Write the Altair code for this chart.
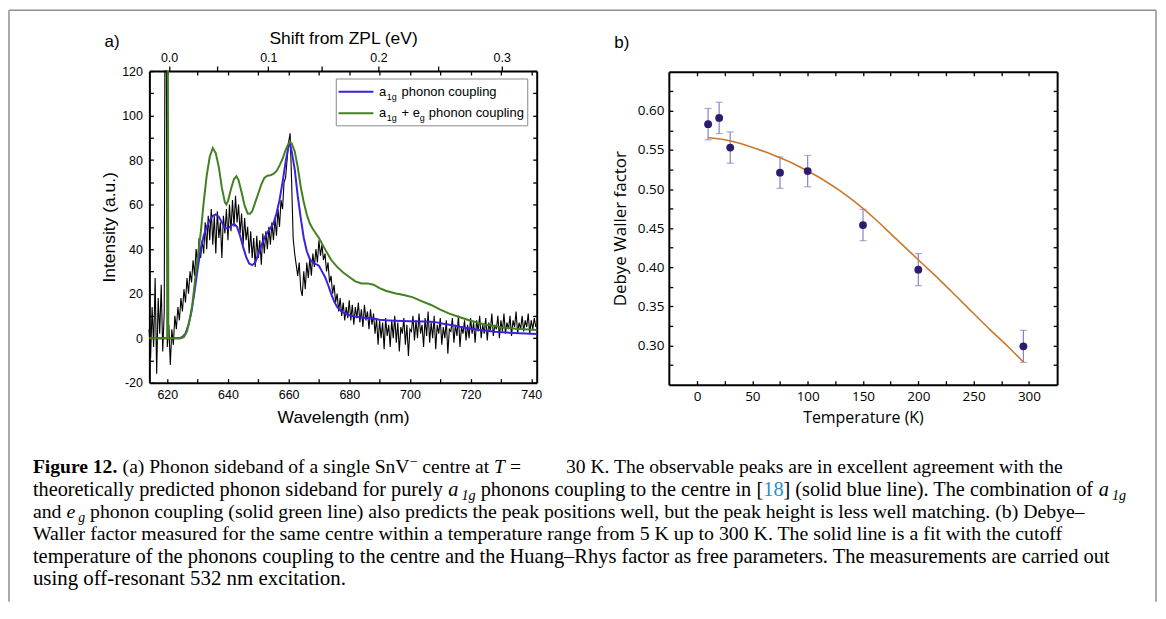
import altair as alt
import pandas as pd

W, H = 1155, 595
SANS_A = "Liberation Sans"
SANS_B = "Open Sans"
SERIF = "Liberation Serif"

# ---------------- panel a data ----------------
spec_wl = [614.0, 614.5, 615.0, 615.5, 616.0, 616.5, 617.0, 617.5, 618.0, 618.5, 619.0, 619.2, 619.7,
           620.0, 620.5, 621.0, 621.5, 622.0, 622.5, 623.0, 623.5, 624.0, 624.5, 625.0, 625.5, 626.0, 626.5,
           627.0, 627.5, 628.0, 628.5, 629.0, 629.5, 630.0,
           630.5, 631.0, 631.5, 632.0, 632.5, 633.0, 633.5, 634.0, 634.5, 635.0, 635.5, 636.0, 636.5, 637.0,
           637.5, 638.0, 638.5, 639.0, 639.5, 640.0,
           640.5, 641.0, 641.5, 642.0, 642.5, 643.0, 643.5, 644.0, 644.5, 645.0, 645.5, 646.0, 646.5, 647.0,
           647.5, 648.0, 648.5, 649.0, 649.5, 650.0,
           650.5, 651.0, 651.5, 652.0, 652.5, 653.0, 653.5, 654.0, 654.5, 655.0, 655.5, 656.0, 656.5, 657.0,
           657.5, 658.0, 658.5, 659.0, 659.5, 660.0,
           660.5, 661.0, 661.5, 662.0, 662.5, 663.0, 663.5, 664.0, 664.5, 665.0, 665.5, 666.0, 666.5, 667.0,
           667.5, 668.0, 668.5, 669.0, 669.5, 670.0,
           670.5, 671.0, 671.5, 672.0, 672.5, 673.0, 673.5, 674.0, 674.5, 675.0, 675.5, 676.0, 676.5, 677.0,
           677.5, 678.0, 678.5, 679.0, 679.5, 680.0,
           680.5, 681.0, 681.5, 682.0, 682.5, 683.0, 683.5, 684.0, 684.5, 685.0, 685.5, 686.0, 686.5, 687.0,
           687.5, 688.0, 688.5, 689.0, 689.5, 690.0,
           690.5, 691.0, 691.5, 692.0, 692.5, 693.0, 693.5, 694.0, 694.5, 695.0, 695.5, 696.0, 696.5, 697.0,
           697.5, 698.0, 698.5, 699.0, 699.5, 700.0,
           700.5, 701.0, 701.5, 702.0, 702.5, 703.0, 703.5, 704.0, 704.5, 705.0, 705.5, 706.0, 706.5, 707.0,
           707.5, 708.0, 708.5, 709.0, 709.5, 710.0,
           710.5, 711.0, 711.5, 712.0, 712.5, 713.0, 713.5, 714.0, 714.5, 715.0, 715.5, 716.0, 716.5, 717.0,
           717.5, 718.0, 718.5, 719.0, 719.5, 720.0,
           720.5, 721.0, 721.5, 722.0, 722.5, 723.0, 723.5, 724.0, 724.5, 725.0, 725.5, 726.0, 726.5, 727.0,
           727.5, 728.0, 728.5, 729.0, 729.5, 730.0,
           730.5, 731.0, 731.5, 732.0, 732.5, 733.0, 733.5, 734.0, 734.5, 735.0, 735.5, 736.0, 736.5, 737.0,
           737.5, 738.0, 738.5, 739.0, 739.5, 740.0, 740.5, 741.0, 741.5]
spec_int = [4, -9, 14, -4, 27, -16, 18, 2, 24, -6, 12, 420, 420,
            -4, 6, -12, 4, -3, 10, 4, 14, 8, 18, 12, 22, 16, 27, 20, 30, 25, 35, 28, 40, 33,
            45, 36, 44, 38, 52, 40, 55, 44, 58, 42, 55, 38, 57, 45, 52, 36, 55, 47, 58, 44,
            60, 48, 62, 50, 64, 52, 60, 47, 56, 42, 54, 44, 50, 38, 48, 36, 45, 32, 46, 36,
            44, 33, 47, 38, 48, 40, 50, 42, 52, 44, 54, 46, 58, 50, 62, 58, 70, 72, 80, 88,
            92, 70, 45, 38, 33, 28, 34, 22, 19, 30, 22, 34, 27, 36, 28, 38, 32, 40, 34, 44,
            37, 42, 35, 38, 30, 34, 25, 28, 20, 24, 16, 20, 12, 18, 10, 16, 8, 14, 9, 17,
            8, 15, 6, 14, 9, 16, 7, 13, 5, 15, 8, 12, 4, 13, 6, 11, 2, 9, -3, 8,
            0, 7, -5, 9, 1, 6, -4, 8, 0, 10, -2, 7, -6, 5, 2, 9, -3, 6, -8, 4,
            3, 10, -1, 8, 0, 11, 2, 6, -4, 9, 1, 12, -2, 7, 0, 10, -5, 6, 2, 9,
            -3, 5, 0, 8, -7, 4, 3, 9, -2, 6, 1, 10, -4, 5, 2, 8, -1, 6, 0, 9,
            2, 7, -2, 8, 3, 10, 0, 6, 2, 9, -1, 7, 3, 11, 1, 6, 4, 10, 0, 8,
            3, 11, 2, 7, 4, 10, 1, 8, 5, 12, 2, 7, 4, 10, 3, 8, 5, 11, 2, 8, 4, 9, 5]

a1g_wl = [614.1, 624.0, 625.0, 626.0, 627.0, 628.0, 629.0, 630.0, 631.0, 632.0, 633.0, 634.0, 635.0, 636.0,
          637.0, 638.0, 639.0, 640.0, 641.0, 642.0, 643.0, 644.0, 645.0, 646.0, 647.0, 648.0, 649.0, 650.0,
          651.0, 652.0, 653.0, 654.0, 655.0, 656.0, 657.0, 658.0, 659.0, 660.0, 660.5, 661.0, 662.0, 663.0,
          664.0, 665.0, 666.0, 667.0, 668.0, 669.0, 670.0, 671.0, 672.0, 673.0, 674.0, 675.0, 676.0, 677.0,
          678.0, 680.0, 682.0, 684.0, 686.0, 688.0, 690.0, 692.0, 695.0, 700.0, 705.0, 708.0, 711.0, 714.0,
          717.0, 720.0, 724.0, 728.0, 732.0, 736.0, 741.8]
a1g_int = [0, 0, 0.5, 2, 6, 12, 21, 31, 40, 46, 50, 53, 55, 55.6,
           54.5, 52, 49.5, 49.3, 50.5, 51.4, 50, 46, 41, 36.5, 33.5, 32.8, 34, 37.5,
           41.5, 45, 47.5, 49.5, 51.5, 56, 62, 70, 79, 86.5, 87, 84, 76, 64,
           54, 45, 39, 35.5, 34, 33.3, 32.5, 30, 27.5, 24, 20, 16.5, 14, 12.5,
           11.5, 10.3, 9.6, 9.3, 9.1, 8.8, 8.3, 8.0, 7.8, 7.6, 7.5, 7.3, 6.5, 5.8,
           5.0, 4.2, 3.5, 2.9, 2.5, 2.2, 1.9]

aeg_wl = [614.1, 620.05, 620.2, 620.35, 624.5, 625.5, 626.5, 627.5, 628.3, 629.0, 630.0, 631.0, 632.0, 633.0,
          634.0, 635.0, 636.0, 637.0, 638.0, 639.0, 639.5, 640.0, 641.0, 642.0, 642.8, 643.5, 644.5, 645.5,
          646.5, 647.3, 648.0, 649.0, 650.0, 651.0, 652.0, 653.0, 654.0, 655.0, 656.0, 657.0, 658.0, 659.0,
          660.0, 660.5, 661.0, 662.0, 663.0, 664.0, 665.0, 666.0, 667.0, 668.0, 669.0, 670.0, 672.0, 674.0,
          676.0, 678.0, 680.0, 682.0, 684.0, 686.0, 688.0, 690.0, 692.0, 695.0, 698.0, 701.0, 704.0, 707.0,
          710.0, 713.0, 716.0, 720.0, 725.0, 730.0, 735.0, 741.8]
aeg_int = [0, 0, 420, 0, 0, 0.5, 3, 9, 15.5, 24, 36, 47, 61, 73,
           81.5, 85.4, 83, 76.8, 67.5, 61, 60, 61.5, 67, 71.5, 72.7, 71, 65.5, 59.5,
           56, 55.9, 57, 61, 65, 69, 72, 73, 73.2, 73.8, 75, 77.5, 80.5, 84.5,
           87.5, 88, 87.5, 84, 77, 68, 61, 55.5, 51.5, 49, 47, 45, 40, 35.2,
           32, 29.5, 27.5, 25.5, 24.6, 24.6, 24, 22.5, 21.3, 20.2, 19.4, 18.3, 16.5, 14.9,
           12.8, 11, 9.6, 7.8, 6, 4.9, 4.2, 3.7]

zpl_nm = 620.6
shift_ticks_ev = [0.0, 0.05, 0.10, 0.15, 0.20, 0.25, 0.30]
wl_labels = [620, 640, 660, 680, 700, 720, 740]
wl_ticks = [620, 630, 640, 650, 660, 670, 680, 690, 700, 710, 720, 730, 740]
int_labels = [-20, 0, 20, 40, 60, 80, 100, 120]
int_ticks = [-20, -10, 0, 10, 20, 30, 40, 50, 60, 70, 80, 90, 100, 110, 120]

# ---------------- panel b data ----------------
temp_k = [10, 20, 30, 75, 100, 150, 200, 295]
dw_factor = [0.583, 0.591, 0.553, 0.521, 0.523, 0.454, 0.397, 0.299]
dw_err = [0.020, 0.020, 0.020, 0.020, 0.020, 0.020, 0.0205, 0.0205]
fit_temp = [10, 25, 40, 55, 70, 85, 100, 115, 130, 145, 160, 175, 190, 205, 220, 235, 250, 265, 280, 295]
fit_dw = [0.566, 0.563, 0.558, 0.551, 0.543, 0.534, 0.523, 0.511, 0.497, 0.481, 0.463, 0.443, 0.423,
          0.403, 0.383, 0.362, 0.341, 0.320, 0.300, 0.279]
temp_labels = [0, 50, 100, 150, 200, 250, 300]
temp_ticks = [0, 25, 50, 75, 100, 125, 150, 175, 200, 225, 250, 275, 300]
dw_labels = [0.30, 0.35, 0.40, 0.45, 0.50, 0.55, 0.60]
dw_ticks = [0.275, 0.30, 0.325, 0.35, 0.375, 0.40, 0.425, 0.45, 0.475, 0.50, 0.525, 0.55, 0.575, 0.60, 0.625]

# ---------------- caption text ----------------
caption_lines = [
    [("Figure 12.", "b"), (" (a) Phonon sideband of a single SnV", "r"), ("\u2212", "sup"),
     (" centre at ", "r"), ("T", "i"), (" =", "r"), (2.3, "gap"),
     ("30 K. The observable peaks are in excellent agreement with the", "r")],
    [("theoretically predicted phonon sideband for purely ", "r"), ("a", "i"), (0.15, "gap"), ("1g", "subi"),
     (" phonons coupling to the centre in ", "r"), ("[", "r"), ("18", "link"), ("]", "r"),
     (" (solid blue line). The combination of ", "r"), ("a", "i"), (0.15, "gap"), ("1g", "subi")],
    [("and ", "r"), ("e", "i"), (0.15, "gap"), ("g", "subi"),
     (" phonon coupling (solid green line) also predicts the peak positions well, but the peak height "
      "is less well matching. (b) Debye\u2013", "r")],
    [("Waller factor measured for the same centre within a temperature range from 5 K up to 300 K. "
      "The solid line is a fit with the cutoff", "r")],
    [("temperature of the phonons coupling to the centre and the Huang\u2013Rhys factor as free "
      "parameters. The measurements are carried out", "r")],
    [("using off-resonant 532 nm excitation.", "r")],
]

# ---------------- helpers ----------------
one = pd.DataFrame({"k": [0]})


def axis(orient, offset, values, font, labels=False, ticks=True, domain=False, title=None,
         tick_size=4, label_size=12.5, title_size=17.5, label_pad=4, title_pad=6, label_expr=None):
    kw = dict(orient=orient, offset=offset, values=values, labels=labels, ticks=ticks, domain=domain,
              grid=False, labelFlush=False, labelOverlap=False, labelFont=font, labelFontSize=label_size,
              labelColor="black", labelPadding=label_pad, tickColor="black", tickWidth=1.3,
              tickSize=tick_size if ticks else 0, domainColor="black", domainWidth=2,
              titleFont=font, titleFontSize=title_size, titleFontWeight="normal", titleColor="black",
              titlePadding=title_pad, title=title)
    if label_expr:
        kw["labelExpr"] = label_expr
    return alt.Axis(**kw)


def txt(s, x, y, size, font=SERIF, color="black", weight="normal", style="normal", angle=0,
        align="left", baseline="alphabetic"):
    return alt.Chart(one).mark_text(text=s, font=font, fontSize=size, color=color, fontWeight=weight,
                                    fontStyle=style, align=align, baseline=baseline, angle=angle).encode(
        x=alt.value(x), y=alt.value(y))


# Times-compatible advance widths (per 1000 em) used to place caption segments side by side
_R = {" ": 250, "(": 333, ")": 333, "[": 333, "]": 333, ".": 250, ",": 250, "-": 333, "\u2013": 500,
      "\u2212": 564, "=": 564}
_R.update({d: 500 for d in "0123456789"})
_R.update(dict(zip("ABCDEFGHIJKLMNOPQRSTUVWXYZ",
                   [722, 667, 667, 722, 611, 556, 722, 722, 333, 389, 722, 611, 889, 722, 722, 556, 722,
                    667, 556, 611, 722, 722, 944, 722, 722, 611])))
_R.update(dict(zip("abcdefghijklmnopqrstuvwxyz",
                   [444, 500, 444, 500, 444, 333, 500, 500, 278, 278, 500, 278, 778, 500, 500, 500, 500,
                    333, 389, 278, 500, 500, 722, 500, 500, 444])))
_B = dict(_R)
_B.update({"F": 611, "u": 556, "r": 444})
_I = dict(_R)
_I.update({"a": 500, "T": 556})
SUB = 0.7


def em(s, style):
    tab = _B if style == "b" else (_I if style in ("i", "subi") else _R)
    w = sum(tab.get(c, 500) for c in s) / 1000.0
    return w * SUB if style in ("sub", "subi", "sup") else w


caption_x0 = 25.0
caption_ends = [1060, 1123, 1082, 1062, 1108, 340]
caption_base = [466, 488.5, 511, 533.5, 556, 578.5]

caption = []
for segs, x_end, base in zip(caption_lines, caption_ends, caption_base):
    total = sum(s if st == "gap" else em(s, st) for s, st in segs)
    size = min(21.0, max(19.0, (x_end - caption_x0) / total))
    cur = caption_x0
    for s, st in segs:
        if st == "gap":
            cur += s * size
            continue
        lead = len(s) - len(s.lstrip(" "))
        xd = cur + em(" " * lead, st) * size
        cur += em(s, st) * size
        body = s.strip(" ")
        if st in ("sub", "subi"):
            caption.append(txt(body, xd, base + 0.22 * size, SUB * size,
                               style="italic" if st == "subi" else "normal"))
        elif st == "sup":
            caption.append(txt(body, xd, base - 0.38 * size, SUB * size))
        else:
            caption.append(txt(body, xd, base, size,
                               weight="bold" if st == "b" else "normal",
                               style="italic" if st == "i" else "normal",
                               color="#2a8fc8" if st == "link" else "black"))

# ---------------- panel a ----------------
XA = dict(domain=[614.1, 741.8], range=[142, 531], nice=False, zero=False)
YA = dict(domain=[-20, 120], range=[375, 62], nice=False, zero=False, clamp=True)

spec_df = pd.DataFrame({"wl": spec_wl, "I": spec_int})
a1g_df = pd.DataFrame({"wl": a1g_wl, "I": a1g_int})
aeg_df = pd.DataFrame({"wl": aeg_wl, "I": aeg_int})
ev_df = pd.DataFrame({"wl": [1239.84 / (1239.84 / zpl_nm - s) for s in shift_ticks_ev]})

hyphen_expr = "datum.value < 0 ? '-' + abs(datum.value) : '' + datum.value"

black = alt.Chart(spec_df).mark_line(color="black", strokeWidth=1.1).encode(
    x=alt.X("wl:Q", scale=alt.Scale(**XA),
            axis=axis("bottom", 375 - H, wl_labels, SANS_A, labels=True, ticks=False, domain=True,
                      title="Wavelength (nm)", label_pad=6, title_pad=8)),
    y=alt.Y("I:Q", scale=alt.Scale(**YA),
            axis=axis("left", -142, int_labels, SANS_A, labels=True, ticks=False, domain=True,
                      title="Intensity (a.u.)", label_pad=7, title_pad=3, label_expr=hyphen_expr)))

blue = alt.Chart(a1g_df).mark_line(color="#3a22e0", strokeWidth=2).encode(
    x=alt.X("wl:Q", scale=alt.Scale(**XA), axis=axis("top", -375, wl_ticks, SANS_A)),
    y=alt.Y("I:Q", scale=alt.Scale(**YA), axis=axis("right", 142 - W, int_ticks, SANS_A)))

green = alt.Chart(aeg_df).mark_line(color="#43801f", strokeWidth=2).encode(
    x=alt.X("wl:Q", scale=alt.Scale(**XA), axis=axis("bottom", 62 - H, wl_ticks, SANS_A, domain=True)),
    y=alt.Y("I:Q", scale=alt.Scale(**YA), axis=axis("left", -531, int_ticks, SANS_A, domain=True)))

ev_expr = (f"(abs(round((1239.84/{zpl_nm} - 1239.84/datum.value)*20)) % 2 == 1) ? '' : "
           f"format(abs(1239.84/{zpl_nm} - 1239.84/datum.value), '.1f')")
ev_axis = alt.Chart(ev_df).mark_point(opacity=0).encode(
    x=alt.X("wl:Q", scale=alt.Scale(**XA),
            axis=axis("top", -62, list(ev_df["wl"]), SANS_A, labels=True, ticks=True, tick_size=5,
                      title="Shift from ZPL (eV)", label_pad=2, title_pad=4, label_expr=ev_expr)))

legend = [
    alt.Chart(one).mark_rect(fill="white", stroke="#8a8a8a", strokeWidth=1).encode(
        x=alt.value(329.7), x2=alt.value(522), y=alt.value(70), y2=alt.value(117)),
    alt.Chart(one).mark_rule(color="#3a22e0", strokeWidth=2).encode(
        x=alt.value(332), x2=alt.value(367), y=alt.value(82.7)),
    alt.Chart(one).mark_rule(color="#43801f", strokeWidth=2).encode(
        x=alt.value(332), x2=alt.value(367), y=alt.value(104.3)),
    txt("a", 372.7, 87, 13, SANS_A), txt("1g", 380.5, 91, 9, SANS_A),
    txt("phonon coupling", 395.3, 87, 13, SANS_A),
    txt("a", 372.7, 108.5, 13, SANS_A), txt("1g", 380.5, 112.5, 9, SANS_A),
    txt("+ e", 395.3, 108.5, 13, SANS_A), txt("g", 413.5, 112.5, 9, SANS_A),
    txt("phonon coupling", 422.7, 108.5, 13, SANS_A),
]

# ---------------- panel b ----------------
XB = dict(domain=[-25.5, 325.5], range=[663.7, 1053.7], nice=False, zero=False)
YB = dict(domain=[0.25, 0.65], range=[377, 62.7], nice=False, zero=False)

pts_df = pd.DataFrame({"T": temp_k, "D": dw_factor, "E": dw_err})
pts_df["lo"] = pts_df["D"] - pts_df["E"]
pts_df["hi"] = pts_df["D"] + pts_df["E"]
fit_df = pd.DataFrame({"T": fit_temp, "D": fit_dw})

ebar = alt.Chart(pts_df).mark_rule(color="#8c80c4", strokeWidth=1.2).encode(
    x=alt.X("T:Q", scale=alt.Scale(**XB), axis=axis("top", -377, temp_ticks, SANS_B)),
    y=alt.Y("lo:Q", scale=alt.Scale(**YB), axis=axis("right", 663.7 - W, dw_ticks, SANS_B)),
    y2="hi:Q")
cap_lo = alt.Chart(pts_df).mark_tick(color="#8c80c4", orient="horizontal", size=7, thickness=1.2).encode(
    x=alt.X("T:Q", scale=alt.Scale(**XB), axis=None),
    y=alt.Y("lo:Q", scale=alt.Scale(**YB), axis=None))
cap_hi = alt.Chart(pts_df).mark_tick(color="#8c80c4", orient="horizontal", size=7, thickness=1.2).encode(
    x=alt.X("T:Q", scale=alt.Scale(**XB), axis=None),
    y=alt.Y("hi:Q", scale=alt.Scale(**YB), axis=None))
fit = alt.Chart(fit_df).mark_line(color="#cc772c", strokeWidth=1.6, interpolate="monotone").encode(
    x=alt.X("T:Q", scale=alt.Scale(**XB), axis=axis("bottom", 62.7 - H, temp_ticks, SANS_B, domain=True)),
    y=alt.Y("D:Q", scale=alt.Scale(**YB), axis=axis("left", -1053.7, dw_ticks, SANS_B, domain=True)))
pts = alt.Chart(pts_df).mark_circle(color="#2d1b6e", size=62, opacity=1).encode(
    x=alt.X("T:Q", scale=alt.Scale(**XB),
            axis=axis("bottom", 377 - H, temp_labels, SANS_B, labels=True, ticks=False, domain=True,
                      title="Temperature (K)", label_size=13.5, title_size=16, label_pad=5, title_pad=7)),
    y=alt.Y("D:Q", scale=alt.Scale(**YB),
            axis=axis("left", -663.7, dw_labels, SANS_B, labels=True, ticks=False, domain=True,
                      title="Debye Waller factor", label_size=13.5, title_size=17, label_pad=5,
                      title_pad=8, label_expr="format(datum.value, '.2f')")))

# ---------------- panel labels, frame ----------------
deco = [
    txt("a)", 97, 38, 17, SANS_A),
    txt("b)", 609, 39, 17, SANS_A),
    alt.Chart(one).mark_rule(color="#8f8f8f", strokeWidth=1.5).encode(
        x=alt.value(1), y=alt.value(1), y2=alt.value(H)),
    alt.Chart(one).mark_rule(color="#8f8f8f", strokeWidth=1.5).encode(
        x=alt.value(1), x2=alt.value(1153), y=alt.value(1)),
    alt.Chart(one).mark_rule(color="#8f8f8f", strokeWidth=1.5).encode(
        x=alt.value(1153), y=alt.value(1), y2=alt.value(H)),
]

layers = [black, blue, green, ev_axis] + legend + [ebar, cap_lo, cap_hi, fit, pts] + deco + caption

chart = alt.layer(*layers).resolve_scale(x="independent", y="independent").properties(
    width=W, height=H, padding=0, autosize=alt.AutoSizeParams(type="none"),
    background="white").configure_view(stroke=None)

chart.save("out.html", embed_options={"renderer": "svg", "actions": False})
